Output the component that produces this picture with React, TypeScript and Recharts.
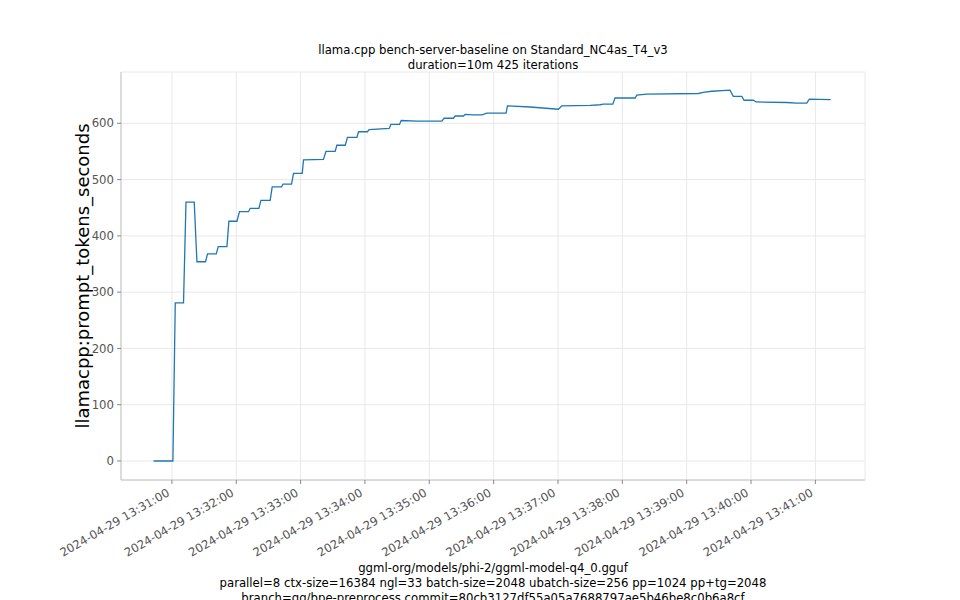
import { LineChart, Line, XAxis, YAxis, CartesianGrid, Label } from 'recharts'

// seconds after 2024-04-29 13:31:00
const TIMES = [
  -17.2, 0.9, 3.1, 10.8, 13.1, 20.8, 23.3, 31.3, 33.2, 41.3, 43.2, 51.3, 53.1, 60.6, 63.0, 71.4,
  73.0, 81.1, 83.0, 91.6, 93.5, 102.2, 103.5, 111.5, 113.4, 121.5, 122.7, 141.3, 143.6, 152.2,
  153.8, 161.6, 163.7, 172.5, 174.0, 182.3, 183.9, 202.6, 204.2, 212.2, 213.8, 228.4, 251.7,
  253.8, 262.5, 264.1, 271.8, 273.4, 281.2, 289.0, 293.6, 311.6, 312.9, 334.1, 360.4, 363.6,
  390.0, 399.3, 402.3, 411.1, 413.2, 431.9, 433.5, 442.8, 490.9, 495.5, 503.4, 520.4, 523.5,
  531.4, 533.5, 542.2, 544.7, 573.3, 582.6, 592.0, 594.4, 614.3,
]

const PROMPT_TOKENS_SECONDS = [
  0, 0, 281, 281, 460, 460, 354, 354, 368, 368, 381, 381, 426, 426, 443, 443,
  449, 449, 463, 463, 487, 487, 492, 492, 511, 511, 535, 536, 550, 550,
  561, 561, 575, 575, 585, 585, 589, 591, 598, 598, 605, 604, 604,
  609, 609, 613, 613, 616, 615, 615, 618, 618, 631, 629, 625, 631,
  632, 633, 634, 634, 645, 645, 650, 652, 653, 655, 657, 659, 648,
  648, 641, 641, 638, 637, 636, 636, 643, 642,
]

const X_TICKS = [0, 60, 120, 180, 240, 300, 360, 420, 480, 540, 600]
const Y_TICKS = [0, 100, 200, 300, 400, 500, 600]

const TITLE_LINES = ['llama.cpp bench-server-baseline on Standard_NC4as_T4_v3', 'duration=10m 425 iterations']
const FOOTER_LINES = [
  'ggml-org/models/phi-2/ggml-model-q4_0.gguf',
  'parallel=8 ctx-size=16384 ngl=33 batch-size=2048 ubatch-size=256 pp=1024 pp+tg=2048',
  'branch=gg/bpe-preprocess commit=80cb3127df55a05a7688797ae5b46be8c0b6a8cf',
]

const data = TIMES.map((t, i) => ({ t, value: PROMPT_TOKENS_SECONDS[i] }))

const FONT = '"DejaVu Sans", sans-serif'
const SPINE = '#c4c4c4'
const TICK_FONT = 11.7

function fmtTime(t: number) {
  const total = 13 * 3600 + 31 * 60 + t
  const h = Math.floor(total / 3600)
  const m = Math.floor((total % 3600) / 60)
  const s = Math.round(total % 60)
  const p = (n: number) => String(n).padStart(2, '0')
  return `2024-04-29 ${p(h)}:${p(m)}:${p(s)}`
}

function XTick({ x, y, payload }: any) {
  const ex = x - 1.5
  const ey = y + 11
  return (
    <text
      x={ex}
      y={ey}
      textAnchor="end"
      transform={`rotate(-30, ${ex}, ${ey})`}
      fontSize={TICK_FONT}
      fill="#555"
      fontFamily={FONT}
    >
      {fmtTime(payload.value)}
    </text>
  )
}

export default function App() {
  return (
    <div style={{ position: 'relative', width: 960, height: 600, overflow: 'hidden', background: '#fff', fontFamily: FONT }}>
      <style>{'body{margin:0}'}</style>
      <div style={{ position: 'absolute', left: 0, width: 986, top: 43, textAlign: 'center', fontSize: 11.7, lineHeight: '15px', color: '#000' }}>
        {TITLE_LINES.map((l) => (
          <div key={l}>{l}</div>
        ))}
      </div>
      <LineChart width={960} height={600} data={data} margin={{ top: 72, right: 95, bottom: 90, left: 0 }}>
        <CartesianGrid stroke="#e8e8e8" />
        <XAxis
          dataKey="t"
          type="number"
          domain={[-47.5, 646.3]}
          allowDataOverflow
          ticks={X_TICKS}
          tick={<XTick />}
          tickSize={4}
          tickMargin={0}
          height={30}
          interval={0}
          stroke={SPINE}
          axisLine={{ stroke: SPINE }}
          tickLine={{ stroke: '#888' }}
        />
        <YAxis
          type="number"
          domain={[-33.8, 691.2]}
          allowDataOverflow
          ticks={Y_TICKS}
          width={121}
          tickSize={4}
          tickMargin={3}
          interval={0}
          axisLine={{ stroke: SPINE }}
          tickLine={{ stroke: '#888' }}
          tick={{ fill: '#555', fontSize: TICK_FONT, fontFamily: FONT }}
        >
          <Label
            content={() => (
              <text
                x={89}
                y={276}
                transform="rotate(-90, 89, 276)"
                textAnchor="middle"
                fontSize={18}
                fontFamily={FONT}
                fill="#000"
              >
                llamacpp:prompt_tokens_seconds
              </text>
            )}
          />
        </YAxis>
        <Line
          dataKey="value"
          type="linear"
          stroke="#1f77b4"
          strokeWidth={1.3}
          dot={false}
          isAnimationActive={false}
        />
      </LineChart>
      <div style={{ position: 'absolute', left: 0, width: 986, top: 561, textAlign: 'center', fontSize: 11.7, lineHeight: '15px', color: '#000' }}>
        {FOOTER_LINES.map((l) => (
          <div key={l}>{l}</div>
        ))}
      </div>
    </div>
  )
}
